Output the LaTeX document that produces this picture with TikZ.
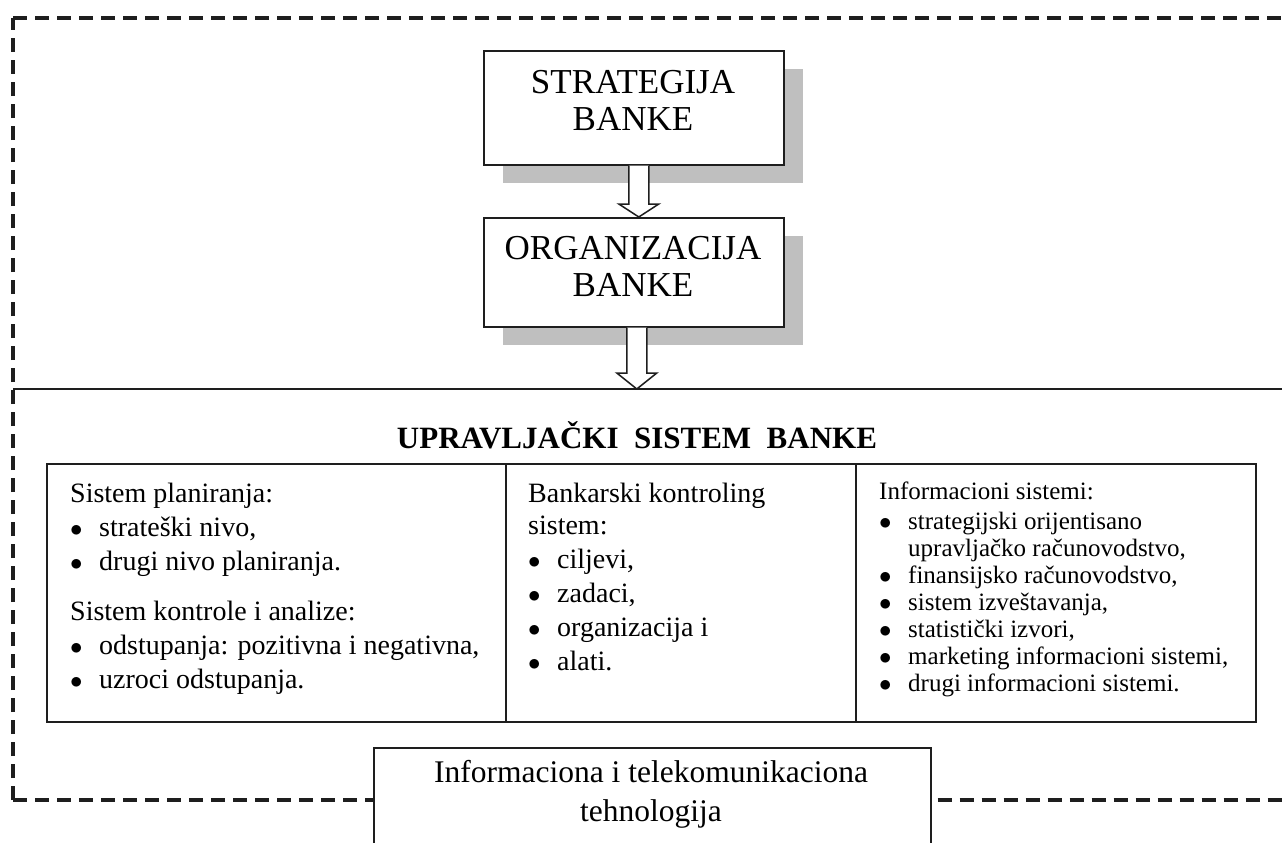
\documentclass[tikz,border=0pt]{standalone}
\usepackage{fontspec}
\setmainfont{Liberation Serif}
\usetikzlibrary{calc,shadows}
\definecolor{ink}{RGB}{30,30,30}
\definecolor{shade}{RGB}{191,191,191}

% round bullet followed by a fixed indent
\newcommand\bul[1]{\makebox[#1][l]{$\bullet$}}

\begin{document}
\begin{tikzpicture}[x=1pt,y=-1pt,
  box/.style={draw=ink, line width=1.6pt, fill=white, inner sep=0pt, anchor=north west},
  shadowed/.style={general shadow={fill=shade, shadow xshift=19pt, shadow yshift=-18pt}},
  head/.style={inner sep=0pt, anchor=base, font=\fontsize{35}{38}\selectfont},
  txt/.style={inner sep=0pt, anchor=base west, font=\fontsize{28}{34}\selectfont},
  txtsm/.style={inner sep=0pt, anchor=base west, font=\fontsize{25}{27}\selectfont},
  txtc/.style={inner sep=0pt, anchor=base, font=\fontsize{31.5}{35}\selectfont},
  ttl/.style={inner sep=0pt, anchor=base, font=\fontsize{31}{34}\selectfont\bfseries},
  hollow/.style={draw=ink, line width=1.5pt, fill=white, line join=miter},
  dashline/.style={draw=ink, line width=3.2pt, dash pattern=on 14pt off 8pt}
]
\useasboundingbox (0,0) rectangle (1282,843);
\clip (0,0) rectangle (1282,843);

% frame corners and the separator line
\coordinate (cTL) at (13,18);
\coordinate (cTR) at (1300,18);
\coordinate (cBL) at (13,800);
\coordinate (cBR) at (1300,800);
\coordinate (sepL) at (13,389);
\coordinate (sepR) at (1300,389);

% strategy and organisation boxes
\node[box, shadowed, minimum width=300, minimum height=114] (s) at (483,50) {};
\node[box, shadowed, minimum width=300, minimum height=109] (o) at (483,217) {};
\node[head] (s1) at (633,93) {STRATEGIJA};
\node[head] (s2) at (633,130) {BANKE};
\node[head] (o1) at (633,259) {ORGANIZACIJA};
\node[head] (o2) at (633,296) {BANKE};

% hollow block arrows
\draw[hollow] let \p1=($(s.south)+(5,0)$), \p2=($(o.north)+(5,0)$) in
  (\x1-10pt,\y1) -- (\x1-10pt,\y2+13pt) -- (\x1-20pt,\y2+13pt) -- (\x1,\y2)
  -- (\x1+20pt,\y2+13pt) -- (\x1+10pt,\y2+13pt) -- (\x1+10pt,\y1);
\draw[hollow] let \p1=($(o.south)+(3,0)$), \p2=(sepL) in
  (\x1-10pt,\y1) -- (\x1-10pt,\y2+16pt) -- (\x1-20pt,\y2+16pt) -- (\x1,\y2)
  -- (\x1+20pt,\y2+16pt) -- (\x1+10pt,\y2+16pt) -- (\x1+10pt,\y1);

% separator
\draw[ink, line width=1.8pt] (sepL) -- (sepR);

% title
\node[ttl] (t) at (637,448) {UPRAVLJAČKI\ \ SISTEM\ \ BANKE};

% three system boxes
\node[box, minimum width=459, minimum height=258] (b1) at (46,463) {};
\node[box, minimum width=350, minimum height=258] (b2) at (505,463) {};
\node[box, minimum width=400, minimum height=258] (b3) at (855,463) {};

\node[txt] (p1) at (70,502) {Sistem planiranja:};
\node[txt] (p2) at (70,536) {\bul{29pt}strateški nivo,};
\node[txt] (p3) at (70,570) {\bul{29pt}drugi nivo planiranja.};
\node[txt] (p4) at (70,620) {Sistem kontrole i analize:};
\node[txt] (p5) at (70,654) {\bul{29pt}odstupanja: pozitivna i negativna,};
\node[txt] (p6) at (70,688) {\bul{29pt}uzroci odstupanja.};

\node[txt] (k1) at (528,502) {Bankarski kontroling};
\node[txt] (k2) at (528,534) {sistem:};
\node[txt] (k3) at (528,568) {\bul{29pt}ciljevi,};
\node[txt] (k4) at (528,602) {\bul{29pt}zadaci,};
\node[txt] (k5) at (528,636) {\bul{29pt}organizacija i};
\node[txt] (k6) at (528,670) {\bul{29pt}alati.};

\node[txtsm] (r1) at (879,499) {Informacioni sistemi:};
\node[txtsm] (r2) at (879,529) {\bul{29pt}strategijski orijentisano};
\node[txtsm] (r3) at (908,556) {upravljačko računovodstvo,};
\node[txtsm] (r4) at (879,583) {\bul{29pt}finansijsko računovodstvo,};
\node[txtsm] (r5) at (879,610) {\bul{29pt}sistem izveštavanja,};
\node[txtsm] (r6) at (879,637) {\bul{29pt}statistički izvori,};
\node[txtsm] (r7) at (879,664) {\bul{29pt}marketing informacioni sistemi,};
\node[txtsm] (r8) at (879,691) {\bul{29pt}drugi informacioni sistemi.};

% technology box
\node[box, minimum width=557, minimum height=120] (it) at (373,747) {};
\node[txtc] (i1) at (651,782) {Informaciona i telekomunikaciona};
\node[txtc] (i2) at (651,821) {tehnologija};

% dashed frame, interrupted by the technology box
\draw[dashline] (cBL) -- (cTL);
\draw[dashline] (cTL) -- (cTR);
\draw[dashline] (cBL) -- (cBL -| it.west);
\draw[dashline] ($(cBL -| it.east)+(6,0)$) -- (cBR);
\end{tikzpicture}
\end{document}
